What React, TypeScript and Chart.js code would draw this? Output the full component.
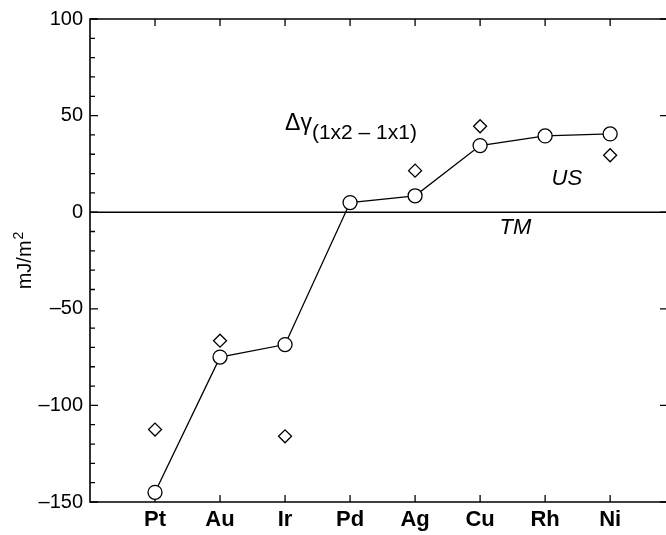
import React, { useEffect, useRef } from 'react';
import { Chart, registerables } from 'chart.js';

Chart.register(...registerables);

// ---- data ----
const categories = ['Pt', 'Au', 'Ir', 'Pd', 'Ag', 'Cu', 'Rh', 'Ni'];
const circleValues = [-145, -75, -68.5, 5, 8.5, 34.5, 39.5, 40.5];
const diamondValues: (number | null)[] = [-112.5, -66.5, -116, null, 21.5, 44.5, null, 29.5];
const yTickValues = [-150, -100, -50, 0, 50, 100];
const yMin = -150;
const yMax = 100;
const xMin = 0;
const xMax = 8.89;
const yTitleMain = 'mJ/m';
const yTitleSup = '2';

const FONT = '"Liberation Sans", Arial, Helvetica, sans-serif';

const fmtY = (v: number) => (v < 0 ? '\u2013' + Math.abs(v) : String(v));

const framePlugin = {
  id: 'frameTicks',
  beforeDatasetsDraw(chart: any) {
    const { ctx, chartArea, scales } = chart;
    const { left, right, top, bottom } = chartArea;
    const x = scales.x;
    const y = scales.y;
    ctx.save();
    ctx.strokeStyle = '#000';
    ctx.lineWidth = 1.6;
    ctx.beginPath();
    ctx.moveTo(left, top);
    ctx.lineTo(right, top);
    ctx.lineTo(right, bottom);
    ctx.lineTo(left, bottom);
    ctx.closePath();
    ctx.stroke();

    ctx.lineWidth = 1.3;
    ctx.beginPath();
    for (let v = yMin; v <= yMax; v += 10) {
      const py = y.getPixelForValue(v);
      const major = v % 50 === 0;
      ctx.moveTo(left, py);
      ctx.lineTo(left + (major ? 8 : 5), py);
      if (major) {
        ctx.moveTo(right, py);
        ctx.lineTo(right - 8, py);
      }
    }
    categories.forEach((_, i) => {
      const px = x.getPixelForValue(i + 1);
      ctx.moveTo(px, bottom);
      ctx.lineTo(px, bottom - 7);
      ctx.moveTo(px, top);
      ctx.lineTo(px, top + 7);
    });
    ctx.stroke();

    // zero line
    ctx.lineWidth = 1.6;
    ctx.beginPath();
    const y0 = y.getPixelForValue(0);
    ctx.moveTo(left, y0);
    ctx.lineTo(right, y0);
    ctx.stroke();
    ctx.restore();
  },
  afterDraw(chart: any) {
    const { ctx, chartArea, scales } = chart;
    const { top, bottom } = chartArea;
    const x = scales.x;
    const y = scales.y;
    ctx.save();
    ctx.fillStyle = '#000';
    // y title with superscript
    ctx.save();
    ctx.translate(25, (top + bottom) / 2);
    ctx.rotate(-Math.PI / 2);
    ctx.textBaseline = 'middle';
    ctx.font = `20px ${FONT}`;
    const wMain = ctx.measureText(yTitleMain).width;
    ctx.font = `14px ${FONT}`;
    const wSup = ctx.measureText(yTitleSup).width;
    const startX = -(wMain + wSup + 1) / 2;
    ctx.textAlign = 'left';
    ctx.font = `20px ${FONT}`;
    ctx.fillText(yTitleMain, startX, 0);
    ctx.font = `14px ${FONT}`;
    ctx.fillText(yTitleSup, startX + wMain + 1, -6);
    ctx.restore();

    // delta gamma label
    ctx.textAlign = 'left';
    ctx.textBaseline = 'alphabetic';
    ctx.font = `23px ${FONT}`;
    const gx = x.getPixelForValue(3.0);
    const gy = y.getPixelForValue(42.8);
    ctx.fillText('\u0394\u03B3', gx, gy);
    const w = ctx.measureText('\u0394\u03B3').width;
    ctx.font = `21px ${FONT}`;
    ctx.fillText('(1x2 \u2013 1x1)', gx + w, gy + 9);

    // US / TM
    ctx.font = `italic 22px ${FONT}`;
    ctx.textBaseline = 'middle';
    ctx.fillText('US', x.getPixelForValue(7.1), y.getPixelForValue(17));
    ctx.fillText('TM', x.getPixelForValue(6.3), y.getPixelForValue(-8.3));
    ctx.restore();
  },
};

export default function App() {
  const ref = useRef<HTMLCanvasElement | null>(null);
  useEffect(() => {
    if (!ref.current) return;
    const chart = new Chart(ref.current, {
      type: 'scatter',
      data: {
        datasets: [
          {
            label: 'circles',
            data: circleValues.map((v, i) => ({ x: i + 1, y: v })),
            showLine: true,
            borderColor: '#000',
            borderWidth: 1.3,
            pointRadius: 7,
            pointHoverRadius: 7,
            pointStyle: 'circle',
            pointBackgroundColor: '#fff',
            pointBorderColor: '#000',
            pointBorderWidth: 1.3,
          },
          {
            label: 'diamonds',
            data: diamondValues
              .map((v, i) => (v === null ? null : { x: i + 1, y: v }))
              .filter((p) => p !== null) as any,
            showLine: false,
            pointRadius: 6.5,
            pointHoverRadius: 6.5,
            pointStyle: 'rectRot',
            pointBackgroundColor: '#fff',
            pointBorderColor: '#000',
            pointBorderWidth: 1.3,
          },
        ],
      },
      options: {
        animation: false,
        responsive: true,
        maintainAspectRatio: false,
        clip: false as any,
        layout: { padding: { top: 13, right: 12, left: 0, bottom: 0 } },
        plugins: { legend: { display: false }, tooltip: { enabled: false }, title: { display: false } },
        scales: {
          x: {
            type: 'linear',
            min: xMin,
            max: xMax,
            grid: { display: false, drawTicks: false },
            border: { display: false },
            afterBuildTicks: (scale: any) => {
              scale.ticks = categories.map((_, i) => ({ value: i + 1 }));
            },
            afterFit: (scale: any) => {
              scale.height = 33;
            },
            ticks: {
              autoSkip: false,
              maxRotation: 0,
              padding: 5,
              color: '#000',
              font: { family: FONT, size: 22, weight: 'bold' },
              callback: (v: any) => categories[Math.round(Number(v)) - 1] ?? '',
            },
          },
          y: {
            type: 'linear',
            min: yMin,
            max: yMax,
            grid: { display: false, drawTicks: false },
            border: { display: false },
            afterBuildTicks: (scale: any) => {
              scale.ticks = yTickValues.map((v) => ({ value: v }));
            },
            afterFit: (scale: any) => {
              scale.width = 90;
            },
            ticks: {
              padding: 7,
              color: '#000',
              font: { family: FONT, size: 20 },
              callback: (v: any) => fmtY(Number(v)),
            },
          },
        },
      },
      plugins: [framePlugin],
    });
    return () => chart.destroy();
  }, []);

  return (
    <div style={{ position: 'absolute', left: 0, top: 0, width: 666, height: 535, overflow: 'hidden', background: '#fff' }}>
      <div style={{ position: 'relative', width: 680, height: 535 }}>
        <canvas ref={ref} />
      </div>
    </div>
  );
}
